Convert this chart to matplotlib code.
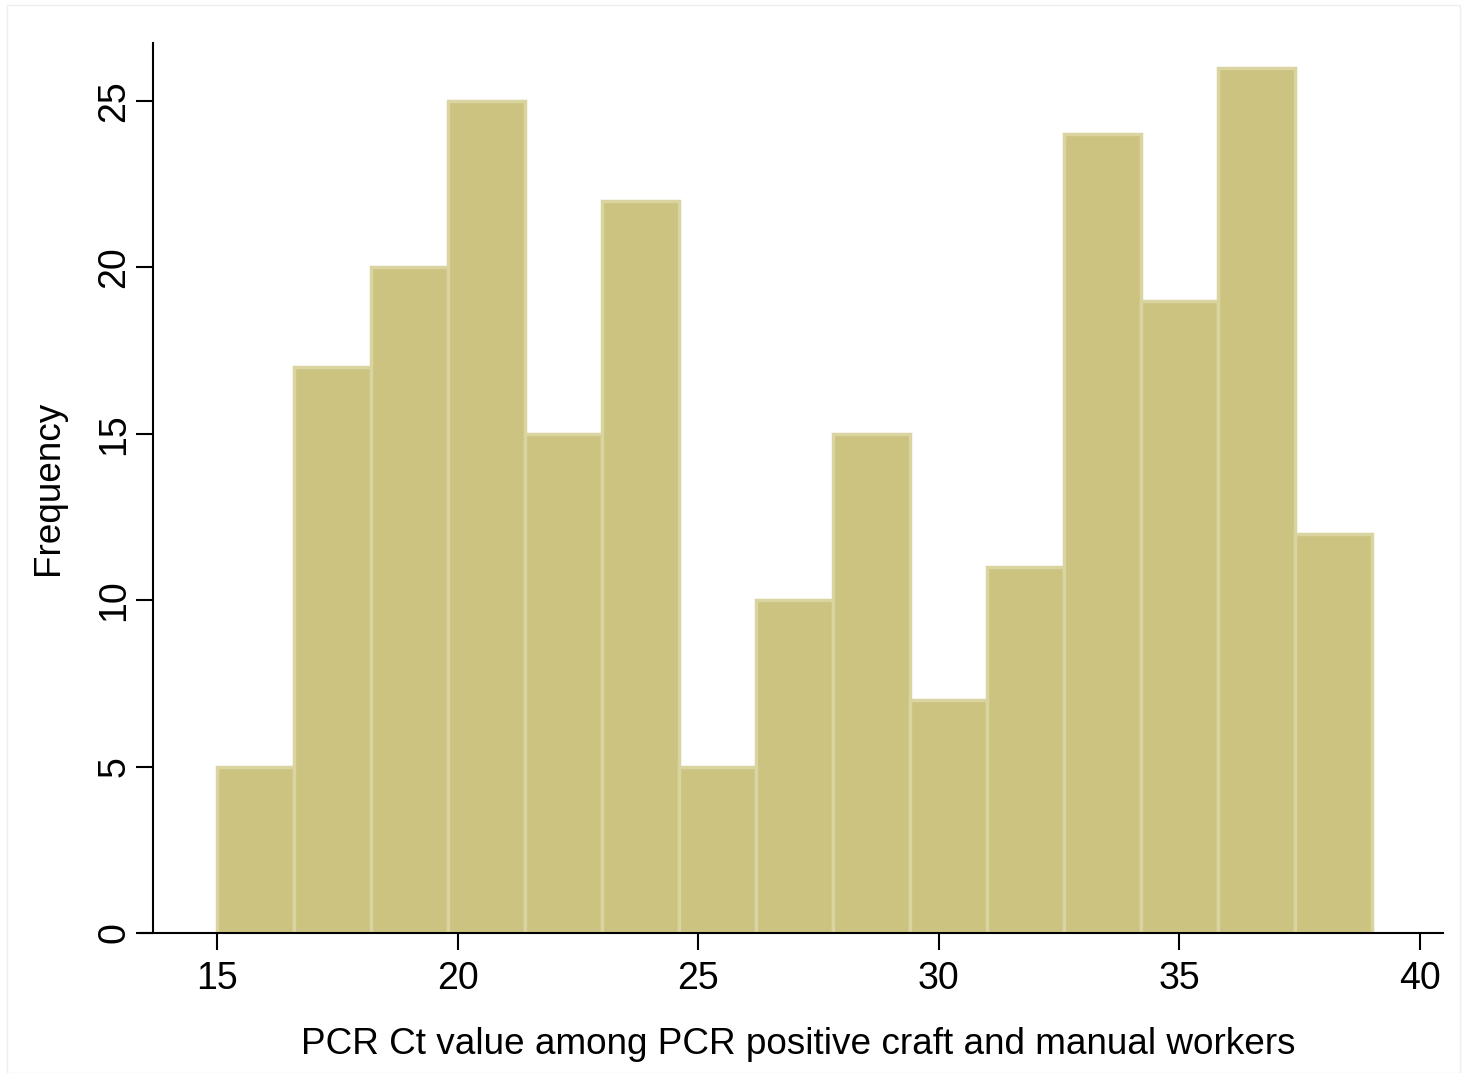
import numpy as np
import matplotlib.pyplot as plt
from matplotlib.patches import Rectangle

# ---------- Data ----------
bin_start = 15.0
bin_width = 1.6
counts = [5, 17, 20, 25, 15, 22, 5, 10, 15, 7, 11, 24, 19, 26, 12]
x_ticks = [15, 20, 25, 30, 35, 40]
y_ticks = [0, 5, 10, 15, 20, 25]

edges = bin_start + bin_width * np.arange(len(counts) + 1)

plt.rcParams['font.family'] = ['Liberation Sans', 'DejaVu Sans']

W, H = 1465, 1073
fig = plt.figure(figsize=(W / 100, H / 100), dpi=100)
ax = fig.add_axes([153 / W, 1 - 933 / H, (1443 - 153) / W, (933 - 43) / H])

ax.hist(edges[:-1], bins=edges, weights=counts,
        color='#cbc37f', edgecolor='#d9d4a0', linewidth=2.5)

ax.set_xlim(13.67, 40.48)
ax.set_ylim(0, 26.74)
ax.set_xticks(x_ticks)
ax.set_yticks(y_ticks)
ax.tick_params(axis='both', labelsize=27, length=12, width=1.5, direction='out')
ax.tick_params(axis='x', pad=8)
ax.tick_params(axis='y', pad=3)
for lab in ax.get_yticklabels():
    lab.set_rotation(90)
    lab.set_va('center')

ax.spines['top'].set_visible(False)
ax.spines['right'].set_visible(False)
ax.spines['left'].set_linewidth(1.5)
ax.spines['bottom'].set_linewidth(1.5)
ax.spines['bottom'].set_bounds(13.4, 40.48)

ax.set_xlabel('PCR Ct value among PCR positive craft and manual workers', fontsize=26.6, labelpad=22)
ax.set_ylabel('Frequency', fontsize=26.6, labelpad=22)

# faint frame around the graph region
fig.patches.append(Rectangle((7 / W, 0), (W - 12) / W, 1 - 5 / H, transform=fig.transFigure,
                             fill=False, edgecolor='#eeeeee', linewidth=1))

fig.savefig('out.png', dpi=100)
